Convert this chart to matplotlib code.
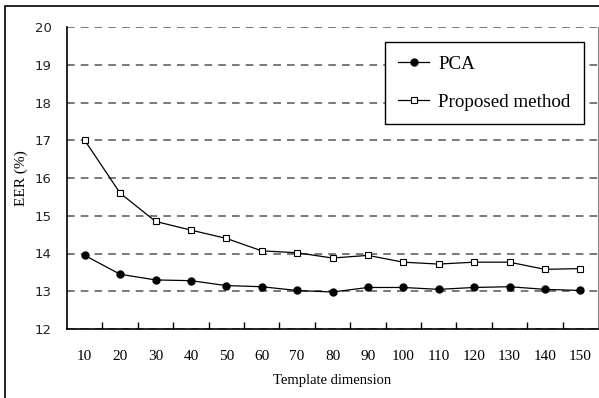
import matplotlib.pyplot as plt
from matplotlib.patches import Rectangle

dims = [10, 20, 30, 40, 50, 60, 70, 80, 90, 100, 110, 120, 130, 140, 150]
pca = [13.95, 13.45, 13.3, 13.28, 13.15, 13.12, 13.02, 12.98, 13.1, 13.1, 13.05, 13.1, 13.12, 13.05, 13.02]
proposed = [17.0, 15.6, 14.85, 14.62, 14.4, 14.07, 14.02, 13.88, 13.95, 13.77, 13.72, 13.77, 13.77, 13.58, 13.6]

serif = 'Liberation Serif'

fig = plt.figure(figsize=(5.99, 3.98), dpi=100)
ax = fig.add_axes([67/599, 69/398, 531/599, 302/398])

pos = [i + 0.5 for i in range(len(dims))]
ax.plot(pos, pca, '-o', color='black', lw=0.9, ms=5, label='PCA')
ax.plot(pos, proposed, '-s', color='black', lw=0.9, ms=4.5, mfc='white', mew=0.8,
        label='Proposed method')

ax.set_xlim(0, len(dims))
ax.set_ylim(12, 20)
ax.set_yticks(range(12, 21))

# labels centred in each category, ticks on the boundaries
ax.set_xticks(pos)
ax.set_xticklabels([str(d) for d in dims], fontfamily=serif, fontsize=11)
ax.set_xticks(range(1, len(dims)), minor=True)
ax.tick_params(axis='x', which='major', length=0, pad=15)
ax.tick_params(axis='x', which='minor', direction='in', length=5, width=1)
ax.tick_params(axis='y', length=0, pad=11, labelsize=9.5, labelcolor='#222222')

ax.grid(axis='y', color='#555555', ls=(0, (5, 4)), lw=1.1)
ax.spines['top'].set_visible(False)
ax.spines['right'].set_color('#888888')
ax.spines['left'].set_linewidth(1.2)
ax.spines['bottom'].set_linewidth(1.2)

ax.set_ylabel('EER (%)', fontfamily=serif, fontsize=11, labelpad=5)
ax.set_xlabel('Template dimension', fontfamily=serif, fontsize=10.5, labelpad=8)

leg = ax.legend(loc='upper right', bbox_to_anchor=(0.9736, 0.95), borderaxespad=0,
                prop={'family': serif, 'size': 13.7},
                frameon=True, fancybox=False, edgecolor='black', framealpha=1,
                handlelength=1.6, borderpad=0.7, labelspacing=1.1, handletextpad=0.5)
leg.get_frame().set_linewidth(1.0)

# outer frame round the figure
fig.add_artist(Rectangle((5/599, -0.05), 1.0, 1 - 6/398 + 0.05, transform=fig.transFigure,
                         fill=False, edgecolor='black', lw=1.2, clip_on=False))

fig.savefig('out.png', dpi=100)
